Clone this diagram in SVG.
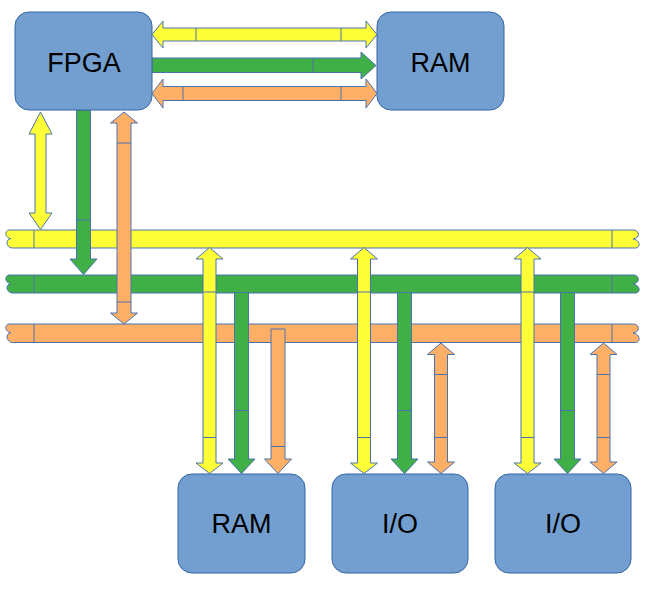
<svg xmlns="http://www.w3.org/2000/svg" width="648" height="589" viewBox="0 0 648 589">
<style>
.node{fill:#729fcf;stroke:#3465a4;stroke-width:1}
.lbl{font-family:"Liberation Sans",Arial,sans-serif;font-size:27px;fill:#000;text-anchor:middle}
.y{fill:#ffff38;stroke:#4a72b0;stroke-width:1}
.g{fill:#3faf46;stroke:#4a72b0;stroke-width:1}
.o{fill:#ffb066;stroke:#4a72b0;stroke-width:1}
.d{stroke:#4a72b0;stroke-width:1;fill:none}
</style>
<rect width="648" height="589" fill="#fff"/>
<g id="buses">
  <path id="bus-yellow" class="y" d="M34,230 L9,230 C4,231 5,238 11,238.5 C5,239.5 6,247 12,248 L34,248 L612,248 L636,248 C641,247 640,240 633,239 C640,238 640,231 634,230 L612,230 Z"/>
  <path id="bus-green" class="g" d="M34,275 L9,275 C4,276 5,283 11,283.5 C5,284.5 6,292 12,293 L34,293 L612,293 L636,293 C641,292 640,285 633,284 C640,283 640,276 634,275 L612,275 Z"/>
  <path id="bus-orange" class="o" d="M34,324 L9,324 C4,325 5,332 11,332.5 C5,333.5 6,341 12,342.5 L34,342.5 L612,342.5 L636,342.5 C641,341.5 640,334 633,333 C640,332 640,325 634,324 L612,324 Z"/>
  <path class="d" d="M34,230V248M612,230V248M34,275V293M612,275V293M34,324V342.5M612,324V342.5"/>
</g>
<g id="connectors">
  <!-- FPGA <-> RAM top -->
  <polygon class="y" points="152,34.5 163,21 163,28 366,28 366,21 377,34.5 366,48 366,41 163,41 163,48"/>
  <path class="d" d="M196,28V41M341,28V41"/>
  <polygon class="g" points="152,58 361,58 361,52 376,65.5 361,79 361,72.5 152,72.5"/>
  <path class="d" d="M313,58V72.5"/>
  <polygon class="o" points="152,93.5 163,79 163,86.5 366,86.5 366,79 377,93.5 366,108 366,100.5 163,100.5 163,108"/>
  <path class="d" d="M183,86.5V100.5M341,86.5V100.5"/>
  <!-- FPGA <-> buses -->
  <polygon class="y" points="40.5,112 52,134 46,134 46,213 52,213 40.5,229.5 29,213 35,213 35,134 29,134"/>
  <polygon class="g" points="76.5,110 90.5,110 90.5,259 97,259 83.5,274.5 70,259 76.5,259"/>
  <path class="d" d="M76.5,220H90.5"/>
  <polygon class="o" points="124,112 137.5,123 131,123 131,313 137.5,313 124,324 110.5,313 117,313 117,123 110.5,123"/>
  <path class="d" d="M117,143H131M117,302H131"/>
  <!-- bus -> RAM -->
  <polygon class="y" points="209.5,247.5 223,259 216,259 216,463 223,463 209.5,473.5 196,463 203,463 203,259 196,259"/>
  <path class="d" d="M203,292H216M203,437.5H216"/>
  <polygon class="g" points="234.5,292.5 248.5,292.5 248.5,459 255,459 241.5,473.5 228,459 234.5,459"/>
  <path class="d" d="M234.5,410.5H248.5"/>
  <polygon class="o" points="271,329 285,329 285,459 291.5,459 278,473.5 264.5,459 271,459"/>
  <path class="d" d="M271,446.5H285"/>
  <!-- bus -> I/O 1 -->
  <polygon class="y" points="364,247.5 377.5,259 370.5,259 370.5,463 377.5,463 364,473.5 350.5,463 357.5,463 357.5,259 350.5,259"/>
  <path class="d" d="M357.5,292H370.5M357.5,437.5H370.5"/>
  <polygon class="g" points="397.5,292.5 411.5,292.5 411.5,459 418,459 404.5,473.5 391,459 397.5,459"/>
  <path class="d" d="M397.5,410.5H411.5"/>
  <polygon class="o" points="441,343 454.5,354.5 447.5,354.5 447.5,462 454.5,462 441,473.5 427.5,462 434.5,462 434.5,354.5 427.5,354.5"/>
  <path class="d" d="M434.5,374.5H447.5M434.5,437.5H447.5"/>
  <!-- bus -> I/O 2 -->
  <polygon class="y" points="527.5,247.5 541,259 534,259 534,463 541,463 527.5,473.5 514,463 521,463 521,259 514,259"/>
  <path class="d" d="M521,292H534M521,437.5H534"/>
  <polygon class="g" points="560.5,292.5 574.5,292.5 574.5,459 581,459 567.5,473.5 554,459 560.5,459"/>
  <path class="d" d="M560.5,410.5H574.5"/>
  <polygon class="o" points="603.5,343 617,354.5 610,354.5 610,462 617,462 603.5,473.5 590,462 597,462 597,354.5 590,354.5"/>
  <path class="d" d="M597,374.5H610M597,437.5H610"/>
</g>
<g id="fpga"><rect class="node" x="15" y="12" width="137" height="98" rx="14"/><text class="lbl" x="84" y="72">FPGA</text></g>
<g id="ram-top"><rect class="node" x="377" y="12" width="127" height="98" rx="14"/><text class="lbl" x="440.5" y="72">RAM</text></g>
<g id="ram-bottom"><rect class="node" x="178" y="474" width="127" height="99" rx="14"/><text class="lbl" x="241.5" y="533">RAM</text></g>
<g id="io1"><rect class="node" x="332" y="474" width="136" height="99" rx="14"/><text class="lbl" x="400" y="533">I/O</text></g>
<g id="io2"><rect class="node" x="495" y="474" width="136" height="99" rx="14"/><text class="lbl" x="563" y="533">I/O</text></g>
</svg>
